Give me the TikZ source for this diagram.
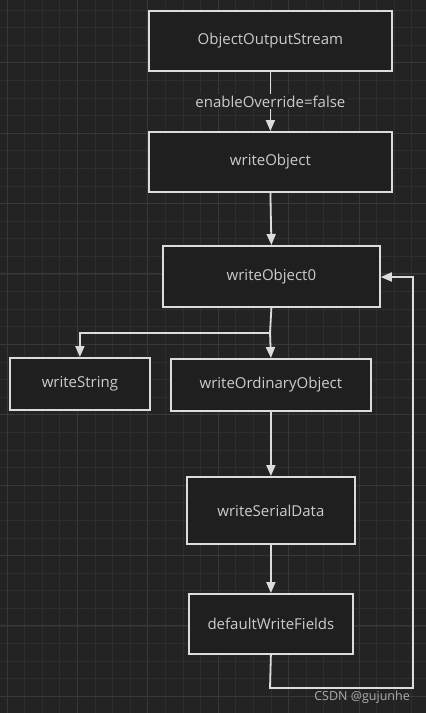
\documentclass[tikz,border=0pt]{standalone}
\usepackage{fontspec}
\setmainfont{Open Sans}
\usetikzlibrary{arrows.meta}
\definecolor{bg}{HTML}{232323}
\definecolor{boxfill}{HTML}{1F1F1F}
\definecolor{gridminor}{HTML}{2E2E2E}
\definecolor{gridmajor}{HTML}{383838}
\definecolor{fg}{HTML}{DCDCDC}
\definecolor{txt}{HTML}{CCCCCC}
\tikzset{
  proc/.style={draw=fg, line width=1.8pt, fill=boxfill, text=txt, font=\fontsize{15}{17}\selectfont, inner sep=0pt, anchor=north west},
  flow/.style={draw=fg, line width=1.8pt, -{Triangle[length=11pt,width=9pt]}},
}
\begin{document}
\begin{tikzpicture}[x=1pt,y=-1pt]
\fill[bg] (0,0) rectangle (426,713);
\useasboundingbox (0,0) rectangle (426,713);
% grid
\foreach \i in {0,...,25} {
  \draw[gridminor, line width=0.7pt] ({7+17.6*\i},0) -- ({7+17.6*\i},713);
}
\foreach \i in {0,...,40} {
  \draw[gridminor, line width=0.7pt] (0,{9.9+17.6*\i}) -- (426,{9.9+17.6*\i});
}
\foreach \i in {0,...,6} {
  \draw[gridmajor, line width=0.9pt] ({7+70.4*\i},0) -- ({7+70.4*\i},713);
}
\foreach \i in {0,...,10} {
  \draw[gridmajor, line width=0.9pt] (0,{62.7+70.4*\i}) -- (426,{62.7+70.4*\i});
}
% nodes
\node[proc, minimum width=243pt, minimum height=60pt] (oos) at (148,10) {ObjectOutputStream};
\node[proc, minimum width=243pt, minimum height=60pt] (wo) at (148,131) {writeObject};
\node[proc, minimum width=217pt, minimum height=61pt] (wo0) at (162,245) {writeObject0};
\node[proc, minimum width=140pt, minimum height=52pt] (ws) at (9,357) {writeString};
\node[proc, minimum width=200pt, minimum height=52pt] (woo) at (170,358) {writeOrdinaryObject};
\node[proc, minimum width=168pt, minimum height=67pt] (wsd) at (186,476) {writeSerialData};
\node[proc, minimum width=164pt, minimum height=60pt] (dwf) at (188,593) {defaultWriteFields};
\coordinate (br) at (270,333);
\coordinate (lb) at (270,688);
\coordinate (rb) at (413,688);
\coordinate (rt) at (413,277);
% edges
\draw[flow] (oos.south) -- node[fill=bg, text=txt, font=\fontsize{15}{17}\selectfont, inner sep=2pt, pos=0.5] {enableOverride=false} (wo.north);
\draw[flow] (wo.south) -- (wo0.north);
\draw[draw=fg, line width=1.8pt] (wo0.south) -- (br);
\draw[flow] (br) -| (ws.north);
\draw[flow] (br) -- (woo.north);
\draw[flow] (woo.south) -- (wsd.north);
\draw[flow] (wsd.south) -- (dwf.north);
\draw[flow] (dwf.south) -- (lb) -- (rb) -- (rt) -- (wo0.east |- rt);
\node[text=txt!85!black, font=\fontsize{12.5}{14}\selectfont, anchor=east, inner sep=0pt] (wm) at (410,697) {CSDN @gujunhe};
\end{tikzpicture}
\end{document}
